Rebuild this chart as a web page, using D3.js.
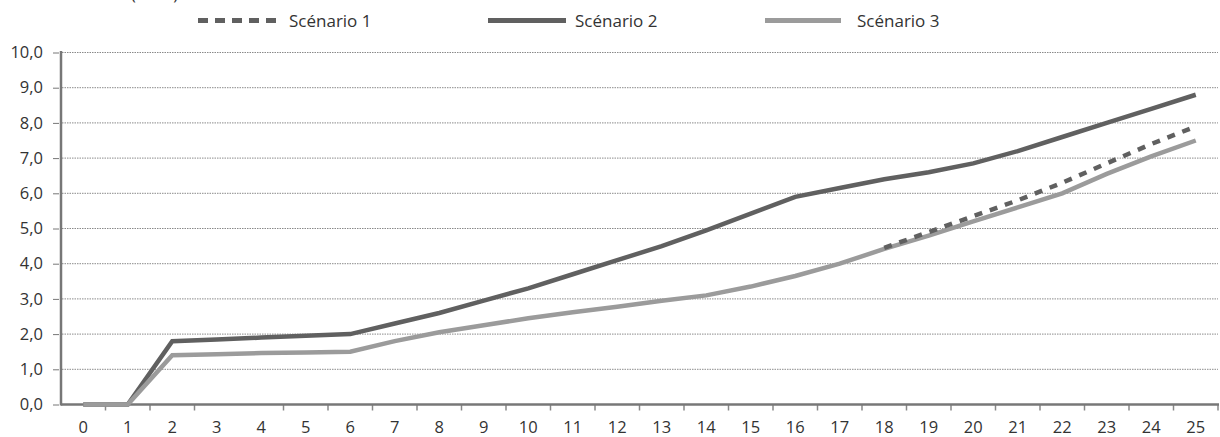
<!DOCTYPE html>
<html><head><meta charset="utf-8">
<script src="https://cdn.jsdelivr.net/npm/d3@7"></script>
<style>
html,body{margin:0;padding:0;background:#fff;}
svg{display:block;font-family:"Open Sans",sans-serif;}
</style></head>
<body><svg id="c" width="1220" height="437"></svg>
<script>
const years = d3.range(0, 26);
const xLabels = years.map(String);
const yTicks = [0,1,2,3,4,5,6,7,8,9,10];
const unitLabel = "(en %)";
const seriesNames = ["Scénario 1", "Scénario 2", "Scénario 3"];
const scenario1 = [null,null,null,null,null,null,null,null,null,null,null,null,null,null,null,null,null,null,4.45,4.9,5.35,5.8,6.3,6.85,7.4,7.9];
const scenario2 = [0,0,1.8,1.85,1.9,1.95,2.0,2.3,2.6,2.95,3.3,3.7,4.1,4.5,4.95,5.42,5.9,6.15,6.4,6.6,6.85,7.2,7.6,8.0,8.4,8.8];
const scenario3 = [0,0,1.4,1.43,1.46,1.48,1.5,1.8,2.05,2.25,2.45,2.62,2.78,2.95,3.1,3.35,3.65,4.0,4.42,4.8,5.2,5.6,6.0,6.55,7.05,7.5];

const svg = d3.select("#c");
const x = d3.scaleBand().domain(years).range([61, 1218]).padding(0);
const cx = i => x(i) + x.bandwidth()/2;
const y = d3.scaleLinear().domain([0, 10]).range([404.5, 52.5]);
const FS = 16.5;

// unit label (clipped at top, as in reference)
svg.append("text").attr("x", 178).attr("y", 0).attr("text-anchor","end")
  .attr("font-size", FS).attr("fill","#333").text(unitLabel);

// gridlines
svg.append("g").selectAll("line").data(yTicks.filter(d=>d>0)).join("line")
  .attr("x1", 62).attr("x2", 1218)
  .attr("y1", d=>y(d)).attr("y2", d=>y(d))
  .attr("stroke", "#8a8a8a").attr("stroke-width", 1).attr("stroke-dasharray", "1.5,1");

// y axis
const yAxis = d3.axisLeft(y).tickValues(yTicks).tickSize(8).tickPadding(8)
  .tickFormat(d => d3.format(".1f")(d).replace(".", ","));
const gy = svg.append("g").attr("transform", "translate(61,0)").call(yAxis);
gy.select(".domain").remove();
gy.selectAll(".tick line").attr("stroke", "#777").attr("x2", -8).attr("x1", -2);
gy.selectAll(".tick text").attr("font-size", FS).attr("fill", "#333")
  .attr("font-family", "Open Sans, sans-serif").attr("x", -18);

// x axis
const gx = svg.append("g").attr("transform", "translate(0,404.5)");
gx.selectAll("line.tk").data(years.slice(1).concat([26]).filter(d => d !== 4)).join("line").attr("class","tk")
  .attr("x1", d => 61 + d*x.bandwidth()).attr("x2", d => 61 + d*x.bandwidth())
  .attr("y1", 0).attr("y2", 6).attr("stroke", "#888").attr("stroke-width", 1.5);
gx.selectAll("text").data(years).join("text")
  .attr("x", d => cx(d)).attr("y", 28).attr("text-anchor", "middle")
  .attr("font-size", FS).attr("fill", "#333").text(d => xLabels[d]);

// axis lines
svg.append("line").attr("x1", 61).attr("x2", 1219).attr("y1", 404.5).attr("y2", 404.5)
  .attr("stroke", "#777").attr("stroke-width", 2.5);
svg.append("line").attr("x1", 61).attr("x2", 61).attr("y1", 51).attr("y2", 405.5)
  .attr("stroke", "#777").attr("stroke-width", 2.5);

// lines
const line = d3.line().defined(d => d[1] !== null).x(d => cx(d[0])).y(d => y(d[1]));
function draw(data, color, dash) {
  svg.append("path").datum(data.map((v,i)=>[i,v]))
    .attr("d", line).attr("fill","none").attr("stroke", color).attr("stroke-width", 4.5)
    .attr("stroke-linejoin","miter").attr("stroke-dasharray", dash || null);
}
draw(scenario2, "#606060");
draw(scenario3, "#9b9b9b");
draw(scenario1, "#606060", "8,8");

// legend
const legend = [
  {name: seriesNames[0], color:"#606060", dash:"10,7", x1:198, x2:276, tx:289},
  {name: seriesNames[1], color:"#606060", dash:null, x1:488, x2:566, tx:575},
  {name: seriesNames[2], color:"#9b9b9b", dash:null, x1:765, x2:841, tx:857}
];
const lg = svg.append("g");
legend.forEach(l => {
  lg.append("line").attr("x1", l.x1).attr("x2", l.x2).attr("y1", 20.5).attr("y2", 20.5)
    .attr("stroke", l.color).attr("stroke-width", 5).attr("stroke-dasharray", l.dash);
  lg.append("text").attr("x", l.tx).attr("y", 26.5).attr("font-size", 17).attr("fill", "#333").text(l.name);
});
</script></body></html>
